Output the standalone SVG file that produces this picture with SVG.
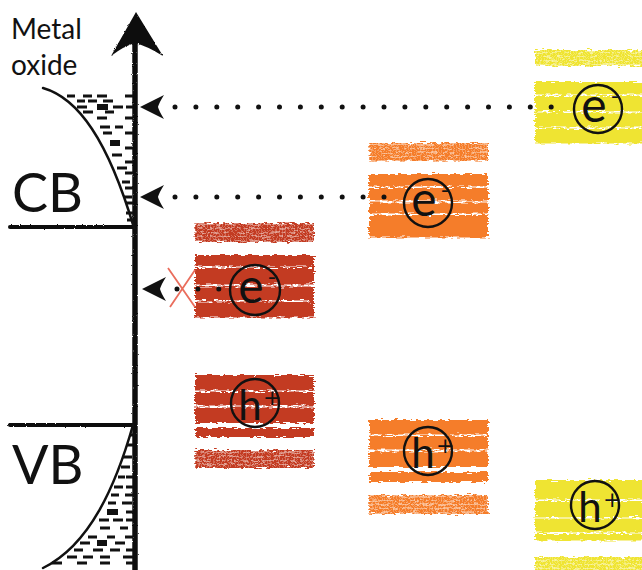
<svg xmlns="http://www.w3.org/2000/svg" width="642" height="570" viewBox="0 0 642 570">
  <style>
    .lbl { font-family: Lato, "Open Sans", "DejaVu Sans", sans-serif; fill: #111; }
    .name { font-size: 28px; }
    .edge { font-size: 54px; }
    .ink { fill: none; stroke: #111; stroke-linecap: round; }
    .dash { fill: none; stroke: #111; stroke-width: 3.2; }
    .dots { fill: none; stroke: #111; stroke-width: 5; stroke-linecap: round; stroke-dasharray: 0 20.9; }
    .ring { fill: none; stroke: #111; stroke-width: 2.4; }
    .car { font-family: Lato, "Open Sans", sans-serif; font-size: 48px; fill: #111; text-anchor: middle; }
    .sup { font-family: "DejaVu Sans", sans-serif; font-size: 22px; fill: #111; }
    .hup { font-size: 42px; }
    .red { fill: #c33a20; }
    .org { fill: #f57d2c; }
    .yel { fill: #efe432; }
    .hatch { fill: url(#grid); }
    .cross { stroke: #ea6d5c; stroke-width: 1.8; fill: none; }
  </style>
  <defs>
    <!-- crayon texture for the coloured energy levels -->
    <filter id="crayon" x="-4%" y="-15%" width="108%" height="130%">
      <feTurbulence type="fractalNoise" baseFrequency="0.15 0.8" numOctaves="2" seed="4" result="n"/>
      <feDisplacementMap in="SourceGraphic" in2="n" scale="6" xChannelSelector="R" yChannelSelector="G"/>
    </filter>
    <!-- pen texture for the black axis lines -->
    <filter id="pen" x="-10%" y="-10%" width="120%" height="120%">
      <feTurbulence type="fractalNoise" baseFrequency="0.9" numOctaves="1" seed="2" result="n"/>
      <feDisplacementMap in="SourceGraphic" in2="n" scale="2.5" xChannelSelector="R" yChannelSelector="G"/>
    </filter>
    <!-- fine grid drawn over the hatched levels -->
    <pattern id="grid" width="3" height="4" patternUnits="userSpaceOnUse">
      <rect x="0" y="0" width="0.8" height="4" fill="#fff" fill-opacity="0.3"/>
      <rect x="0" y="0" width="3" height="0.9" fill="#fff" fill-opacity="0.45"/>
    </pattern>
    <!-- left-pointing notched arrowhead -->
    <marker id="head" viewBox="0 -13 40 26" refX="0" refY="0" markerWidth="40" markerHeight="26" markerUnits="userSpaceOnUse" orient="auto-start-reverse">
      <path d="M35,0 L11,-12 Q16,-4 17,0 Q16,4 11,12 Z" fill="#111"/>
    </marker>
  </defs>

  <!-- metal oxide: energy axis, band edges and density of states -->
  <g id="metal-oxide">
    <text class="lbl name" x="11" y="39">Metal</text>
    <text class="lbl name" x="11" y="75">oxide</text>
    <text class="lbl edge" x="12" y="212">CB</text>
    <text class="lbl edge" x="12" y="484">VB</text>
    <g filter="url(#pen)">
      <path class="ink" d="M135,44 V572" stroke-width="5.5"/>
      <path d="M136,12 L111,56 Q124,46 135,43 Q147,46 163,56 Z" fill="#111"/>
      <path class="ink" d="M10,227 H135" stroke-width="4"/>
      <path class="ink" d="M10,425 H135" stroke-width="4"/>
    </g>
    <path class="ink" d="M43,88 C78,98 108,140 134,228" stroke-width="2.5"/>
    <path class="ink" d="M133,425 C116,485 90,545 43,568" stroke-width="2.5"/>
    <path class="dash" d="M67,96h8 M83,96h9 M97,96h10 M125,96h8
      M77,101h8 M88,101h9 M103,101h10
      M77,107h10 M113,107h10 M126,107h7
      M83,112h10 M105,112h9
      M97,118h10 M125,118h8
      M100,127h10 M115,127h8
      M103,133h9 M125,133h8
      M125,148h8 M112,155h10 M125,162h8 M117,168h10
      M125,173h8 M122,182h8 M125,188h8 M124,197h8 M126,203h7 M126,213h7 M127,220h6"/>
    <path d="M97,104h11v6h-11z M110,140h10v6h-10z" fill="#111"/>
    <path class="dash" d="M130,435h5 M127,445h6 M123,457h9 M121,467h9
      M118,477h7 M126,477h7 M114,487h9 M126,487h7 M111,495h8 M125,495h8
      M108,503h8 M122,503h10 M126,512h7
      M99,520h10 M113,520h10 M126,520h7
      M100,528h10 M120,528h8
      M88,537h9 M107,537h8 M125,537h8
      M80,543h10 M115,543h10
      M74,550h9 M93,550h10 M110,550h10 M126,550h7
      M67,557h10 M83,557h10 M100,557h10 M123,557h10
      M52,563h10 M77,563h10 M100,563h10 M126,563h7"/>
    <path d="M107,509h11v6h-11z M97,540h10v6h-10z" fill="#111"/>
  </g>

  <!-- red absorber levels -->
  <g id="red-levels">
    <g filter="url(#crayon)">
      <rect class="red" x="195" y="223" width="119" height="19"/>
      <rect class="hatch" x="195" y="223" width="119" height="19"/>
      <rect class="red" x="195" y="255" width="119" height="11.5"/>
      <rect class="red" x="195" y="268" width="119" height="16.5"/>
      <rect class="red" x="195" y="286.5" width="119" height="13.5"/>
      <rect class="red" x="195" y="301.5" width="119" height="16"/>
      <rect class="red" x="195" y="375" width="119" height="15.5"/>
      <rect class="red" x="195" y="392" width="119" height="13.5"/>
      <rect class="red" x="195" y="407.5" width="119" height="15.5"/>
      <rect class="red" x="195" y="428" width="119" height="9"/>
      <rect class="red" x="195" y="450" width="119" height="18"/>
      <rect class="hatch" x="195" y="450" width="119" height="18"/>
    </g>
  </g>

  <!-- orange absorber levels -->
  <g id="orange-levels">
    <g filter="url(#crayon)">
      <rect class="org" x="369" y="143" width="119" height="18"/>
      <rect class="hatch" x="369" y="143" width="119" height="18"/>
      <rect class="org" x="369" y="174" width="119" height="12.5"/>
      <rect class="org" x="369" y="188" width="119" height="12.5"/>
      <rect class="org" x="369" y="202.5" width="119" height="11"/>
      <rect class="org" x="369" y="215" width="119" height="22.5"/>
      <rect class="org" x="369" y="420" width="119" height="14.5"/>
      <rect class="org" x="369" y="436" width="119" height="13.5"/>
      <rect class="org" x="369" y="451.5" width="119" height="15.5"/>
      <rect class="org" x="369" y="472" width="119" height="10"/>
      <rect class="org" x="369" y="495" width="119" height="19"/>
      <rect class="hatch" x="369" y="495" width="119" height="19"/>
    </g>
  </g>

  <!-- yellow absorber levels -->
  <g id="yellow-levels">
    <g filter="url(#crayon)">
      <rect class="yel" x="535" y="50" width="110" height="16"/>
      <rect class="hatch" x="535" y="50" width="110" height="16"/>
      <rect class="yel" x="535" y="82" width="110" height="12.5"/>
      <rect class="yel" x="535" y="96" width="110" height="15"/>
      <rect class="yel" x="535" y="112.5" width="110" height="15"/>
      <rect class="yel" x="535" y="129" width="110" height="14.5"/>
      <rect class="yel" x="535" y="480" width="110" height="19.5"/>
      <rect class="yel" x="535" y="501" width="110" height="16"/>
      <rect class="yel" x="535" y="518.5" width="110" height="14"/>
      <rect class="yel" x="535" y="534" width="110" height="6.5"/>
      <rect class="yel" x="535" y="557" width="110" height="16"/>
      <rect class="hatch" x="535" y="557" width="110" height="16"/>
    </g>
  </g>

  <!-- electron transfer paths -->
  <g id="connectors">
    <path class="dots" d="M175,107 H552" marker-start="url(#head)"/>
    <path class="dots" d="M175,197 H385" marker-start="url(#head)"/>
    <path class="dots" d="M177,289 H220" marker-start="url(#head)"/>
    <path class="cross" d="M168,268 L195,307 M195,270 L170,307"/>
  </g>

  <!-- charge carriers -->
  <g id="e-yellow">
    <circle class="ring" cx="598" cy="109" r="24"/>
    <text class="car" x="594" y="122">e</text>
    <text class="sup" x="611" y="103">-</text>
  </g>
  <g id="e-orange">
    <circle class="ring" cx="428" cy="203" r="24"/>
    <text class="car" x="424" y="216">e</text>
    <text class="sup" x="441" y="197">-</text>
  </g>
  <g id="e-red">
    <circle class="ring" cx="255" cy="290" r="25"/>
    <text class="car" x="251" y="303">e</text>
    <text class="sup" x="268" y="284">-</text>
  </g>
  <g id="h-red">
    <circle class="ring" cx="255" cy="403" r="24"/>
    <text class="car hup" x="250" y="420">h</text>
    <text class="sup" x="263" y="405">+</text>
  </g>
  <g id="h-orange">
    <circle class="ring" cx="428" cy="451" r="24"/>
    <text class="car hup" x="423" y="468">h</text>
    <text class="sup" x="436" y="453">+</text>
  </g>
  <g id="h-yellow">
    <circle class="ring" cx="595" cy="505" r="24"/>
    <text class="car hup" x="590" y="522">h</text>
    <text class="sup" x="603" y="507">+</text>
  </g>
</svg>
